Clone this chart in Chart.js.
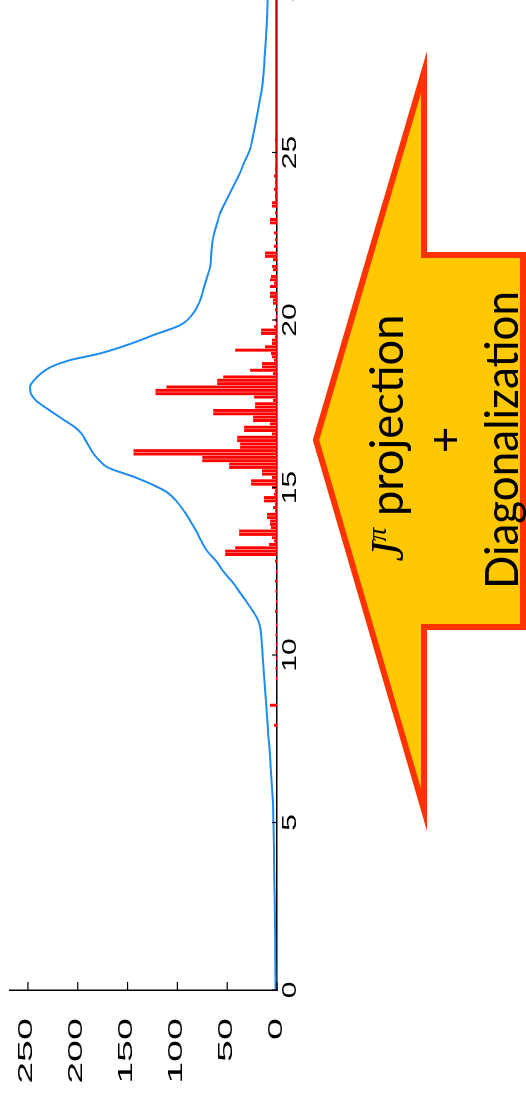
<!DOCTYPE html>
<html>
<head>
<meta charset="utf-8">
<script src="https://cdn.jsdelivr.net/npm/chart.js@4"></script>
<style>
  html, body { margin: 0; padding: 0; background: #fff; overflow: hidden; width: 526px; height: 1093px; }
  /* the whole figure is laid out landscape and turned a quarter turn */
  #stage { position: absolute; left: 0; top: 0; width: 1113px; height: 526px;
           transform-origin: 0 0; transform: translateY(1093px) rotate(-90deg); }
  #stage canvas, #stage svg { position: absolute; left: 0; top: 0; }
</style>
</head>
<body>
<div id="stage">
  <canvas id="spectrum" width="1113" height="526"></canvas>
  <svg width="1113" height="526" viewBox="0 0 1113 526">
    <polygon points="653,316 1021,424 838,424 838,523 466,523 466,424 283,424"
             fill="#ffc800" stroke="#ff3300" stroke-width="6"
             stroke-linejoin="miter" stroke-miterlimit="10"/>
    <text x="655" y="403" text-anchor="middle" font-family="Lato" font-size="46"
          textLength="247" lengthAdjust="spacingAndGlyphs" fill="#000"><tspan font-family="Liberation Serif" font-style="italic">J</tspan><tspan font-family="Liberation Serif" font-style="italic" font-size="28" dy="-17">π</tspan><tspan dy="17"> projection</tspan></text>
    <text x="653" y="461" text-anchor="middle" font-family="Lato" font-size="46" fill="#000">+</text>
    <text x="653" y="518" text-anchor="middle" font-family="Lato" font-size="46"
          textLength="298" lengthAdjust="spacingAndGlyphs" fill="#000">Diagonalization</text>
  </svg>
</div>
<script>
// axis tick values
const energyTicks = [0, 5, 10, 15, 20, 25, 30];
const countTicks = [0, 50, 100, 150, 200, 250];

// discrete levels after projection (red bars)
const levelEnergy = [
  7.9, 8.5, 9.3, 9.6, 9.9, 10.1, 10.3, 10.6, 10.9, 11.3, 11.6, 11.9, 12.2, 12.5, 12.8,
  13.0, 13.1, 13.2, 13.3, 13.4, 13.5, 13.6, 13.7, 13.8, 13.9,
  14.0, 14.1, 14.2, 14.3, 14.4, 14.5, 14.6, 14.7, 14.8, 14.9,
  15.0, 15.1, 15.2, 15.3, 15.4, 15.5, 15.6, 15.7, 15.8, 15.9,
  16.0, 16.1, 16.2, 16.3, 16.4, 16.5, 16.6, 16.7, 16.8, 16.9,
  17.0, 17.1, 17.2, 17.3, 17.4, 17.5, 17.6, 17.7, 17.8, 17.9,
  18.0, 18.1, 18.2, 18.3, 18.4, 18.5, 18.6, 18.7, 18.8, 18.9,
  19.0, 19.1, 19.2, 19.3, 19.4, 19.5, 19.6, 19.7, 19.8, 19.9,
  20.0, 20.1, 20.3, 20.5, 20.6, 20.7, 20.8,
  21.0, 21.1, 21.2, 21.3, 21.5, 21.6, 21.8, 21.9,
  22.0, 22.2, 22.4, 22.6, 22.9, 23.0, 23.2, 23.4, 23.5, 23.7, 23.9,
  24.1, 24.3, 24.5, 24.7, 24.9, 25.2, 25.4, 25.7, 25.9
];
const levelStrength = [
  3, 7, 1, 1.5, 1, 1.5, 1, 1.5, 1, 2, 1, 1.5, 2, 1, 2,
  52, 52, 42, 8, 3, 5, 38, 38, 6, 7,
  7, 10, 10, 2, 4, 2, 13, 13, 3, 2,
  5, 26, 26, 5, 15, 15, 48, 48, 75, 75,
  144, 144, 37, 37, 40, 40, 5, 33, 33, 7,
  24, 24, 64, 64, 22, 22, 4, 23, 122, 122,
  111, 60, 60, 54, 4, 27, 15, 15, 3, 5,
  6, 42, 12, 5, 5, 2, 16, 16, 3, 1,
  2, 1, 2, 4, 4, 7, 7,
  7, 3, 7, 6, 4, 5, 4, 12,
  12, 3, 2, 3, 7, 7, 2, 5, 5, 2, 3,
  2, 3, 2, 1, 2, 1, 2, 1, 1
];

// smoothed strength function (blue curve)
const smoothEnergy = [
  0, 1, 2, 3, 4, 5, 5.7, 6.5, 7.2, 7.7, 8.4, 9.0, 9.6, 10.0, 10.5, 10.85,
  11.1, 11.3, 11.65, 11.9, 12.15, 12.5, 12.8, 13.1, 13.4, 13.64, 13.9, 14.24,
  14.63, 14.85, 15.0, 15.3, 15.6, 15.8, 16.0, 16.2, 16.4, 16.6, 16.8, 17.0,
  17.3, 17.6, 17.8, 18.0, 18.2, 18.4, 18.6, 18.8, 19.0, 19.3, 19.55, 19.85,
  20.2, 20.6, 20.9, 21.3, 21.6, 22.0, 22.3, 22.6, 22.9, 23.2, 23.5, 23.8,
  24.1, 24.4, 24.7, 25.1, 25.5, 26.1, 26.6, 27.2, 28.0, 29.0, 30.0
];
const smoothStrength = [
  1.5, 1.8, 2, 2.5, 3, 3.6, 4.3, 6, 7.5, 9, 10.5, 12, 13.5, 14.5, 15.5, 17,
  20, 24, 32, 38, 44, 54, 61, 70, 76, 80, 85, 92,
  102, 110, 119, 142, 170, 178, 184, 188, 192, 196, 203, 213,
  228, 242, 247, 248, 244, 237, 227, 208, 178, 146, 124, 97,
  84, 77, 74, 70, 67, 66, 65, 63, 60, 57, 52, 47,
  42, 37, 33, 27, 24, 20, 17, 14, 12, 10, 9
];

// thin red trace resting on the energy axis at the high end
const edgeEnergy = [23.5, 30];
const edgeStrength = [1, 1];

const toPoints = (xs, ys) => xs.map((v, i) => ({ x: v, y: ys[i] }));

function drawStretched(ctx, text, x, y, sx, align) {
  ctx.save();
  ctx.translate(x, y);
  ctx.scale(sx, 1);
  ctx.textAlign = align;
  ctx.textBaseline = 'alphabetic';
  ctx.fillText(text, 0, 0);
  ctx.restore();
}

// inward tick marks and wide tick labels
const axisDecor = {
  id: 'axisDecor',
  afterDraw(chart) {
    const { ctx, chartArea, scales: { x, y } } = chart;
    ctx.save();
    ctx.strokeStyle = '#000';
    ctx.fillStyle = '#000';
    ctx.lineWidth = 1.2;

    ctx.font = '20px "Liberation Sans", Arial, sans-serif';
    x.ticks.forEach(t => {
      const px = x.getPixelForValue(t.value);
      ctx.beginPath();
      ctx.moveTo(px, chartArea.bottom);
      ctx.lineTo(px, chartArea.bottom - 5);
      ctx.stroke();
      drawStretched(ctx, String(t.value), px, chartArea.bottom + 18.5, 1.5, 'center');
    });

    ctx.font = '21px "Liberation Sans", Arial, sans-serif';
    y.ticks.forEach(t => {
      const py = y.getPixelForValue(t.value);
      ctx.beginPath();
      ctx.moveTo(chartArea.left, py);
      ctx.lineTo(chartArea.left + 8, py);
      ctx.stroke();
      drawStretched(ctx, String(t.value), chartArea.left - 28, py + 4.5, 1.88, 'right');
    });
    ctx.restore();
  }
};

new Chart(document.getElementById('spectrum'), {
  type: 'bar',
  data: {
    datasets: [
      {
        type: 'line',
        data: toPoints(smoothEnergy, smoothStrength),
        borderColor: '#1e8cf0',
        borderWidth: 2,
        pointRadius: 0,
        cubicInterpolationMode: 'monotone',
        order: 1
      },
      {
        type: 'bar',
        data: toPoints(levelEnergy, levelStrength),
        backgroundColor: '#ff0000',
        borderWidth: 0,
        barPercentage: 0.88,
        categoryPercentage: 1,
        order: 2
      },
      {
        type: 'line',
        data: toPoints(edgeEnergy, edgeStrength),
        borderColor: '#ff0000',
        borderWidth: 1.5,
        pointRadius: 0,
        order: 3
      }
    ]
  },
  options: {
    responsive: false,
    animation: false,
    devicePixelRatio: 1,
    layout: { padding: { left: 103, right: 5, top: 10, bottom: 249 } },
    plugins: { legend: { display: false }, tooltip: { enabled: false } },
    scales: {
      x: {
        type: 'linear', min: 0, max: 30, offset: false,
        afterBuildTicks: s => { s.ticks = energyTicks.map(v => ({ value: v })); },
        ticks: { display: false },
        grid: { display: false, drawTicks: false },
        border: { display: true, color: '#000', width: 1.5 }
      },
      y: {
        type: 'linear', min: 0, max: 268,
        afterBuildTicks: s => { s.ticks = countTicks.map(v => ({ value: v })); },
        ticks: { display: false },
        grid: { display: false, drawTicks: false },
        border: { display: true, color: '#000', width: 1.5 }
      }
    }
  },
  plugins: [axisDecor]
});
</script>
</body>
</html>
